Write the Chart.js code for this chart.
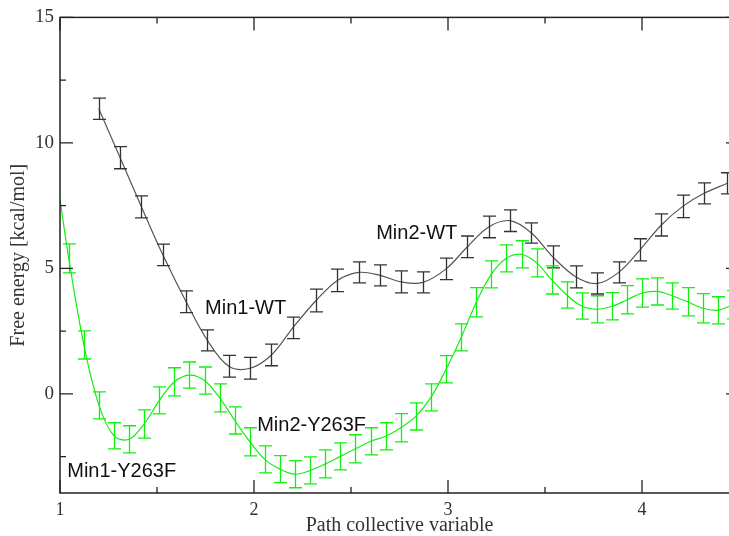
<!DOCTYPE html>
<html>
<head>
<meta charset="utf-8">
<script src="https://cdn.jsdelivr.net/npm/chart.js@4.4.1/dist/chart.umd.min.js"></script>
<style>
  html, body { margin: 0; padding: 0; background: #fff; overflow: hidden; }
</style>
</head>
<body>
<canvas id="fe" width="742" height="536"></canvas>
<script>
// free energy profiles along the path CV

// wild type
const wtX = [1.20, 1.31, 1.42, 1.53, 1.65, 1.76, 1.87, 1.98, 2.09, 2.20,
  2.32, 2.43, 2.54, 2.65, 2.76, 2.87, 2.99, 3.10, 3.21, 3.32,
  3.43, 3.54, 3.66, 3.77, 3.88, 3.99, 4.10, 4.21, 4.32, 4.44]
const wtY = [11.36, 9.41, 7.45, 5.54, 3.67, 2.13, 1.1, 1.02, 1.55, 2.63,
  3.72, 4.52, 4.84, 4.72, 4.46, 4.44, 4.98, 5.86, 6.65, 6.9,
  6.41, 5.46, 4.66, 4.4, 4.84, 5.74, 6.73, 7.47, 7.99, 8.39]
const wtErr = [0.42, 0.44, 0.44, 0.43, 0.43, 0.42, 0.43, 0.43, 0.43, 0.43,
  0.45, 0.45, 0.42, 0.42, 0.44, 0.42, 0.43, 0.43, 0.43, 0.43,
  0.4, 0.44, 0.44, 0.42, 0.42, 0.44, 0.44, 0.45, 0.42, 0.42]

// Y263F mutant
const mutX = [1.00, 1.045, 1.123, 1.201, 1.278, 1.356, 1.434, 1.512, 1.590, 1.667,
  1.745, 1.823, 1.901, 1.979, 2.056, 2.134, 2.212, 2.290, 2.368, 2.445,
  2.523, 2.601, 2.679, 2.757, 2.834, 2.912, 2.990, 3.068, 3.146, 3.223,
  3.301, 3.379, 3.457, 3.535, 3.612, 3.690, 3.768, 3.846, 3.924, 4.001,
  4.079, 4.157, 4.235, 4.313, 4.390, 4.468]
const mutY = [7.75, 5.4, 1.95, -0.46, -1.67, -1.81, -1.2, -0.26, 0.48, 0.75,
  0.53, -0.16, -1.06, -1.91, -2.61, -3.0, -3.2, -3.05, -2.79, -2.49,
  -2.19, -1.89, -1.69, -1.35, -0.9, -0.14, 0.98, 2.25, 3.65, 4.76,
  5.4, 5.56, 5.22, 4.54, 3.94, 3.5, 3.37, 3.49, 3.75, 4.02,
  4.08, 3.9, 3.67, 3.41, 3.33, 3.55]
const mutErr = [0, 0.58, 0.56, 0.54, 0.52, 0.54, 0.56, 0.54, 0.56, 0.52,
  0.54, 0.56, 0.54, 0.56, 0.54, 0.54, 0.54, 0.54, 0.56, 0.54,
  0.56, 0.54, 0.54, 0.56, 0.54, 0.54, 0.54, 0.54, 0.58, 0.54,
  0.54, 0.54, 0.56, 0.56, 0.52, 0.52, 0.54, 0.54, 0.56, 0.56,
  0.54, 0.52, 0.56, 0.58, 0.54, 0.56]

const xTicks = [1, 2, 3, 4]
const yTicks = [0, 5, 10, 15]

// text labels placed in data units
const noteText = ['Min1-WT', 'Min2-WT', 'Min1-Y263F', 'Min2-Y263F']
const noteX = [1.957, 2.839, 1.318, 2.297]
const noteY = [3.39, 6.41, -3.11, -1.27]

const toPts = (xs, ys) => xs.map((x, i) => ({ x: x, y: ys[i] }))

const errorBars = {
  id: 'errorBars',
  afterDatasetsDraw(chart) {
    const { ctx } = chart
    const { x, y } = chart.scales
    chart.data.datasets.forEach((ds) => {
      ctx.save()
      ctx.strokeStyle = ds.barColor
      ctx.lineWidth = 1.3
      ds.data.forEach((p, i) => {
        const e = ds.err[i]
        if (!e) return
        const px = Math.round(x.getPixelForValue(p.x)) + 0.5
        const top = y.getPixelForValue(p.y + e)
        const bot = y.getPixelForValue(p.y - e)
        ctx.beginPath()
        ctx.moveTo(px, top)
        ctx.lineTo(px, bot)
        ctx.moveTo(px - 6.5, top)
        ctx.lineTo(px + 6.5, top)
        ctx.moveTo(px - 6.5, bot)
        ctx.lineTo(px + 6.5, bot)
        ctx.stroke()
      })
      ctx.restore()
    })
  },
}

const frameTicks = {
  id: 'frameTicks',
  afterDraw(chart) {
    const { ctx, chartArea: a } = chart
    const { x, y } = chart.scales
    ctx.save()
    ctx.strokeStyle = '#222'
    ctx.lineWidth = 1.5
    ctx.strokeRect(a.left, a.top, a.right - a.left, a.bottom - a.top)
    ctx.lineWidth = 1.3
    ctx.beginPath()
    xTicks.forEach((v) => {
      const px = x.getPixelForValue(v)
      ctx.moveTo(px, a.bottom); ctx.lineTo(px, a.bottom - 13)
      ctx.moveTo(px, a.top); ctx.lineTo(px, a.top + 13)
      const pm = x.getPixelForValue(v + 0.5)
      ctx.moveTo(pm, a.bottom); ctx.lineTo(pm, a.bottom - 6)
      ctx.moveTo(pm, a.top); ctx.lineTo(pm, a.top + 6)
    })
    yTicks.forEach((v) => {
      const py = y.getPixelForValue(v)
      ctx.moveTo(a.left, py); ctx.lineTo(a.left + 13, py)
      ctx.moveTo(a.right, py); ctx.lineTo(a.right - 13, py)
      const pm = y.getPixelForValue(v - 2.5)
      ctx.moveTo(a.left, pm); ctx.lineTo(a.left + 6, pm)
      ctx.moveTo(a.right, pm); ctx.lineTo(a.right - 6, pm)
    })
    ctx.stroke()

    ctx.fillStyle = '#111'
    ctx.font = '20px "Liberation Sans", Arial, sans-serif'
    ctx.textAlign = 'center'
    ctx.textBaseline = 'middle'
    noteText.forEach((t, i) => {
      ctx.fillText(t, x.getPixelForValue(noteX[i]), y.getPixelForValue(noteY[i]))
    })
    ctx.restore()
  },
}

const serif = '"Liberation Serif", "Times New Roman", serif'

new Chart(document.getElementById('fe'), {
  type: 'line',
  data: {
    datasets: [
      {
        label: 'WT',
        data: toPts(wtX, wtY),
        err: wtErr,
        borderColor: '#555',
        barColor: '#333',
        borderWidth: 1.2,
        pointRadius: 0,
        tension: 0.35,
        fill: false,
      },
      {
        label: 'Y263F',
        data: toPts(mutX, mutY),
        err: mutErr,
        borderColor: '#11f011',
        barColor: '#11f011',
        borderWidth: 1.2,
        pointRadius: 0,
        tension: 0.35,
        fill: false,
      },
    ],
  },
  options: {
    responsive: false,
    animation: false,
    devicePixelRatio: 1,
    layout: { padding: { top: 17, right: 3, left: 0, bottom: 0 } },
    scales: {
      x: {
        type: 'linear',
        min: 1,
        max: 4.5,
        afterFit: (s) => { s.height = 43 },
        afterBuildTicks: (s) => { s.ticks = xTicks.map((v) => ({ value: v })) },
        grid: { display: false, drawTicks: false },
        border: { display: false },
        ticks: {
          padding: 6,
          color: '#333',
          font: { family: serif, size: 18 },
        },
        title: {
          display: true,
          text: 'Path collective variable',
          color: '#333',
          padding: { top: 0, bottom: 0 },
          font: { family: serif, size: 20, lineHeight: 1 },
        },
      },
      y: {
        type: 'linear',
        min: -3.95,
        max: 15,
        afterFit: (s) => { s.width = 60 },
        afterBuildTicks: (s) => { s.ticks = yTicks.map((v) => ({ value: v })) },
        grid: { display: false, drawTicks: false },
        border: { display: false },
        ticks: {
          padding: 6,
          color: '#333',
          font: { family: serif, size: 19 },
        },
        title: {
          display: true,
          text: 'Free energy [kcal/mol]',
          color: '#333',
          padding: { top: 8.5, bottom: 0 },
          font: { family: serif, size: 20, lineHeight: 1 },
        },
      },
    },
    plugins: {
      legend: { display: false },
      tooltip: { enabled: false },
    },
  },
  plugins: [errorBars, frameTicks],
})
</script>
</body>
</html>
